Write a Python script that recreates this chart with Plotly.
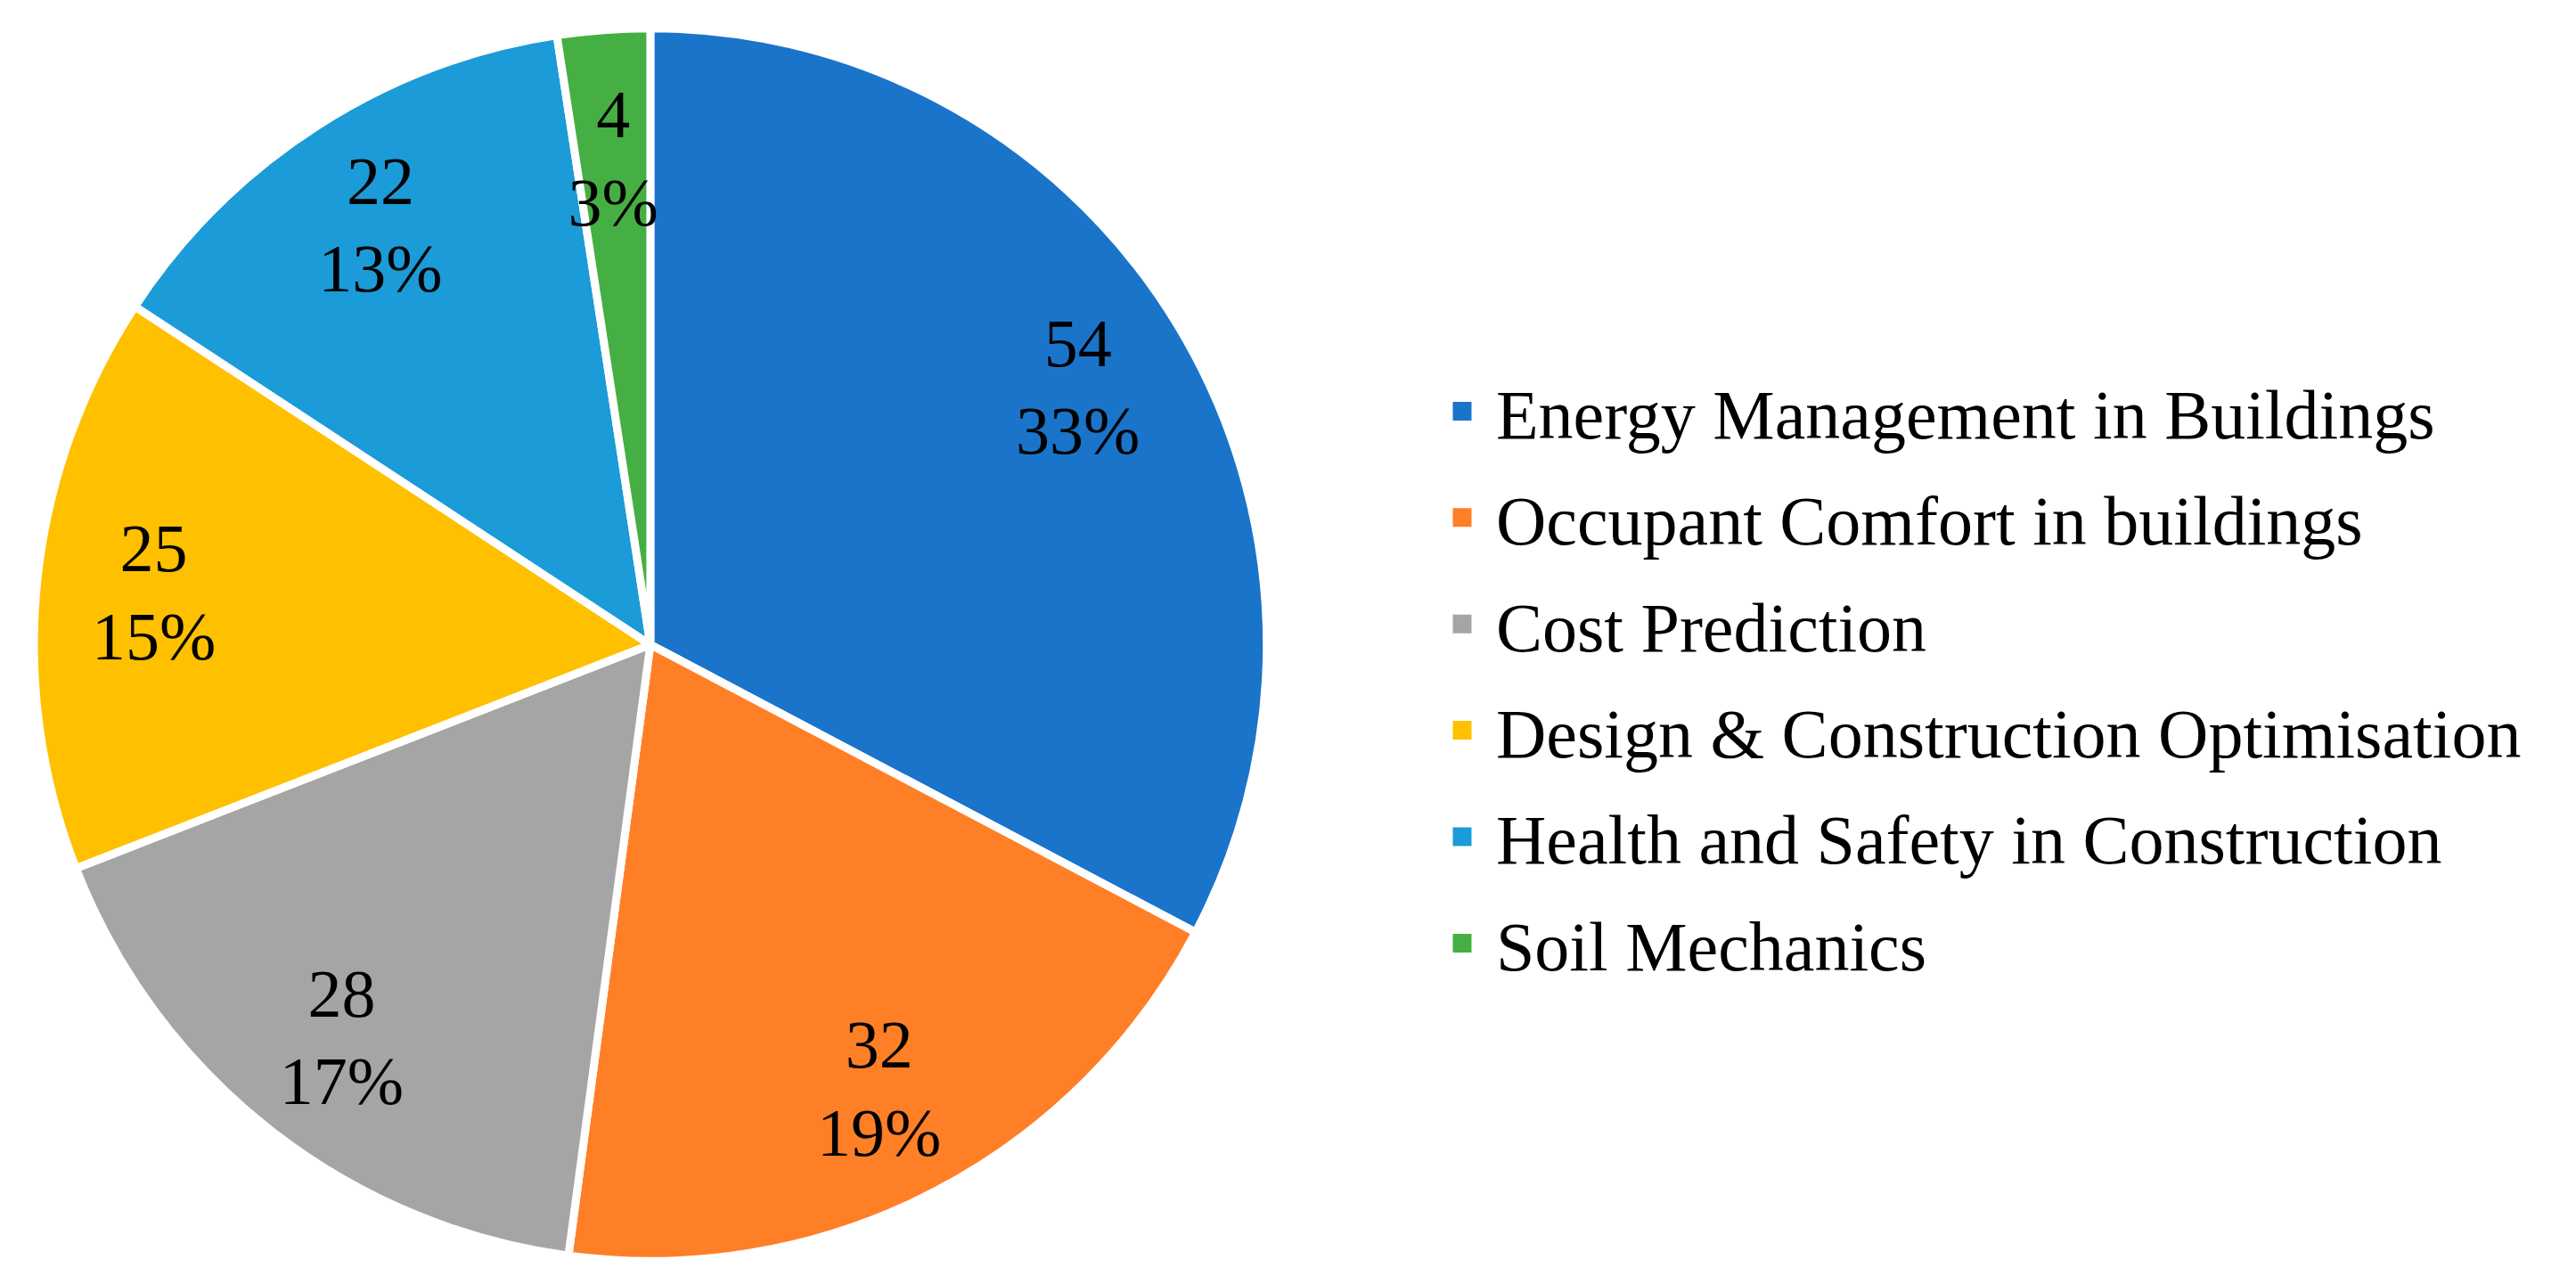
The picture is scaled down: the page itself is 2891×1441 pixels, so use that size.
import plotly.graph_objects as go

categories = [
    "Energy Management in Buildings",
    "Occupant Comfort in buildings",
    "Cost Prediction",
    "Design & Construction Optimisation",
    "Health and Safety in Construction",
    "Soil Mechanics",
]
counts = [54, 32, 28, 25, 22, 4]
pct_labels = ["33%", "19%", "17%", "15%", "13%", "3%"]
colors = ["#1A74CA", "#FF7F27", "#A5A5A5", "#FFC000", "#1B9BD7", "#46AF43"]

FONT = "Liberation Serif"
W, H = 2891, 1441

# pie geometry (paper fractions)
cx, cy = 0.2497, 0.5035
rx, ry = 0.2393, 0.4801
small = 0.852  # green-label helper pie scale

label_text = [f"{v}<br>{p}" for v, p in zip(counts, pct_labels)]
big_text = [t if v != min(counts) else "" for t, v in zip(label_text, counts)]
small_text = [t if v == min(counts) else "" for t, v in zip(label_text, counts)]

fig = go.Figure()

# coloured pie
fig.add_trace(go.Pie(
    labels=categories, values=counts, sort=False, direction="clockwise",
    rotation=0, marker=dict(colors=colors, line=dict(color="white", width=9)),
    textinfo="none", showlegend=False, hoverinfo="label+value+percent",
    domain=dict(x=[cx - rx, cx + rx], y=[cy - ry, cy + ry]),
))

# transparent ring carrying the labels of large slices
fig.add_trace(go.Pie(
    labels=categories, values=counts, sort=False, direction="clockwise",
    rotation=0, hole=0.62,
    marker=dict(colors=["rgba(0,0,0,0)"] * len(counts), line=dict(width=0)),
    text=big_text, texttemplate="%{text}", textposition="inside",
    insidetextorientation="horizontal",
    textfont=dict(family=FONT, size=76, color="black"),
    showlegend=False, hoverinfo="skip",
    domain=dict(x=[cx - rx, cx + rx], y=[cy - ry, cy + ry]),
))

# transparent helper pie carrying the small-slice label
fig.add_trace(go.Pie(
    labels=categories, values=counts, sort=False, direction="clockwise",
    rotation=0,
    marker=dict(colors=["rgba(0,0,0,0)"] * len(counts), line=dict(width=0)),
    text=small_text, texttemplate="%{text}", textposition="inside",
    insidetextorientation="horizontal",
    textfont=dict(family=FONT, size=76, color="black"),
    showlegend=False, hoverinfo="skip",
    domain=dict(x=[cx - rx * small, cx + rx * small],
                y=[cy - ry * small, cy + ry * small]),
))

# legend entries
for i, (name, col) in enumerate(zip(categories, colors)):
    fig.add_trace(go.Scatter(
        x=[None], y=[None], mode="markers", name=name,
        legendgroup=f"g{i}",
        marker=dict(symbol="square", size=16, color=col,
                    line=dict(color=col, width=5)),
        hoverinfo="skip",
    ))

fig.update_layout(
    width=W, height=H,
    margin=dict(l=0, r=0, t=0, b=0),
    paper_bgcolor="white", plot_bgcolor="white",
    xaxis=dict(visible=False), yaxis=dict(visible=False),
    uniformtext=dict(minsize=76, mode="show"),
    legend=dict(
        x=0.5517, y=0.478, xanchor="left", yanchor="middle",
        font=dict(family=FONT, size=78, color="black"),
        itemwidth=66, tracegroupgap=15,
        bgcolor="rgba(0,0,0,0)", borderwidth=0,
    ),
    showlegend=True,
)

fig.write_html("out.html")
